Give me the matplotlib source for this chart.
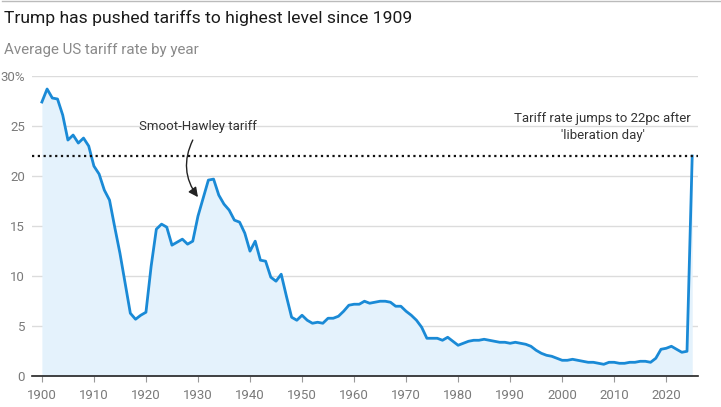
import numpy as np
import matplotlib
matplotlib.use("Agg")
import matplotlib.pyplot as plt
from matplotlib.lines import Line2D

# Average US tariff rate by year, 1900-2025
years = np.arange(1900, 2026)
tariff = [
    27.4, 28.7, 27.8, 27.7, 26.1, 23.6, 24.1, 23.3, 23.8, 23.0,   # 1900s
    21.0, 20.2, 18.6, 17.6, 14.9, 12.3, 9.3, 6.3, 5.7, 6.1,       # 1910s
    6.4, 11.0, 14.7, 15.2, 14.9, 13.1, 13.4, 13.7, 13.2, 13.5,    # 1920s
    16.0, 17.8, 19.6, 19.7, 18.1, 17.2, 16.6, 15.6, 15.4, 14.3,   # 1930s
    12.5, 13.5, 11.6, 11.5, 9.9, 9.5, 10.2, 8.0, 5.9, 5.6,        # 1940s
    6.1, 5.6, 5.3, 5.4, 5.3, 5.8, 5.8, 6.0, 6.5, 7.1,             # 1950s
    7.2, 7.2, 7.5, 7.3, 7.4, 7.5, 7.5, 7.4, 7.0, 7.0,             # 1960s
    6.5, 6.1, 5.6, 4.9, 3.8, 3.8, 3.8, 3.6, 3.9, 3.5,             # 1970s
    3.1, 3.3, 3.5, 3.6, 3.6, 3.7, 3.6, 3.5, 3.4, 3.4,             # 1980s
    3.3, 3.4, 3.3, 3.2, 3.0, 2.6, 2.3, 2.1, 2.0, 1.8,             # 1990s
    1.6, 1.6, 1.7, 1.6, 1.5, 1.4, 1.4, 1.3, 1.2, 1.4,             # 2000s
    1.4, 1.3, 1.3, 1.4, 1.4, 1.5, 1.5, 1.4, 1.8, 2.7,             # 2010s
    2.8, 3.0, 2.7, 2.4, 2.5, 22.0,                                # 2020s
]
level_2025 = 22.0
x_ticks = np.arange(1900, 2021, 10)
y_ticks = [0, 5, 10, 15, 20, 25, 30]
y_labels = ["0", "5", "10", "15", "20", "25", "30%"]

LINE = "#1a8ad6"
FILL = "#e4f2fc"
GREY = "#7a7a7a"
DARK = "#333333"
NARROW = ["Roboto", "DejaVu Sans"]

fig = plt.figure(figsize=(7.21, 4.07), dpi=100)
ax = fig.add_axes([0.0444, 0.0754, 0.9236, 0.7379])

ax.fill_between(years, tariff, 0, color=FILL, lw=0)
ax.plot(years, tariff, color=LINE, lw=2, solid_joinstyle="round", zorder=3)
ax.axhline(level_2025, color="#111111", lw=1.6, ls=(0, (1, 1.6)), zorder=4)

ax.set_xlim(1898.1, 2026.1)
ax.set_ylim(0, 30)
ax.set_yticks(y_ticks)
ax.set_yticklabels(y_labels)
ax.set_xticks(x_ticks)
ax.grid(axis="y", color="#dcdcdc", lw=1)
ax.set_axisbelow(True)
for s in ["top", "right", "left"]:
    ax.spines[s].set_visible(False)
ax.spines["bottom"].set_color("#222222")
ax.spines["bottom"].set_linewidth(1.2)
ax.spines["bottom"].set_zorder(5)
ax.tick_params(axis="y", length=0, pad=5, labelcolor=GREY, labelsize=9.5)
ax.tick_params(axis="x", length=4, color="#999999", pad=5, labelcolor=GREY, labelsize=9.5)
for lab in ax.get_xticklabels() + ax.get_yticklabels():
    lab.set_family(NARROW)

ax.annotate("", xy=(1930.0, 17.9), xytext=(1929.0, 23.6),
            arrowprops=dict(arrowstyle="-|>", color="#222222", lw=1,
                            mutation_scale=14, shrinkA=0, shrinkB=0,
                            connectionstyle="arc3,rad=0.3"))
ax.text(1929.9, 25.0, "Smoot-Hawley tariff", ha="center", va="center",
        color=DARK, fontsize=9.5, family=NARROW)
ax.text(2007.8, 24.9, "Tariff rate jumps to 22pc after\n'liberation day'",
        ha="center", va="center", color=DARK, fontsize=9.5,
        family=NARROW, linespacing=1.35)

fig.add_artist(Line2D([0.003, 1.0], [0.997, 0.997], color="#bbbbbb", lw=1))
fig.text(0.006, 0.955, "Trump has pushed tariffs to highest level since 1909",
         ha="left", va="center", fontsize=12.6, color="#1a1a1a", family="Roboto")
fig.text(0.005, 0.877, "Average US tariff rate by year",
         ha="left", va="center", fontsize=10.9, color="#8a8a8a", family="Roboto")

fig.savefig("out.png", dpi=100)
